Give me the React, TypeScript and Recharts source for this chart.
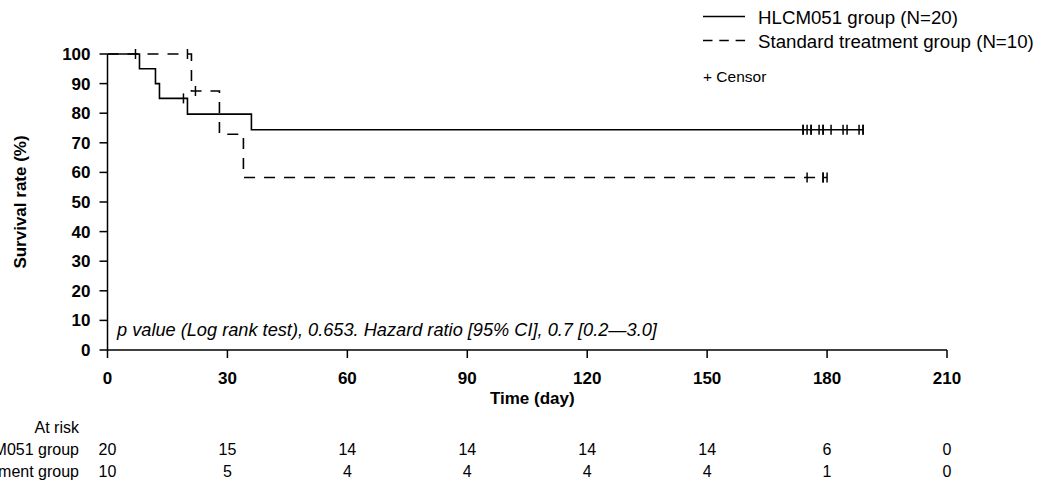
import { ComposedChart, Line, Scatter, XAxis, YAxis, Legend } from 'recharts'

// axis ticks
const xTicks = [0, 30, 60, 90, 120, 150, 180, 210]
const yTicks = [0, 10, 20, 30, 40, 50, 60, 70, 80, 90, 100]

// number at risk at each x tick
const riskHLCM = [20, 15, 14, 14, 14, 14, 6, 0]
const riskStandard = [10, 5, 4, 4, 4, 4, 1, 0]
const riskRowLabels = ['At risk', 'HLCM051 group', 'Standard treatment group']

// Kaplan-Meier steps (day, survival %)
const hlcmDays = [0, 8, 12, 13, 20, 36, 189]
const hlcmSurvival = [100, 95, 90, 85, 79.7, 74.4, 74.4]
const hlcmCensorDays = [19, 174, 174, 175, 176, 176, 178, 179, 179, 181, 184, 185, 188, 189, 189]

const stdDays = [0, 21, 28, 34, 180]
const stdSurvival = [100, 87.5, 72.9, 58.3, 58.3]
const stdCensorDays = [7, 20, 22, 175, 179, 179, 180]

const seriesNames = ['HLCM051 group (N=20)', 'Standard treatment group (N=10)']
const statsNote = 'p value (Log rank test), 0.653. Hazard ratio [95% CI], 0.7 [0.2\u20143.0]'

const FONT = '"Liberation Sans", Arial, Helvetica, sans-serif'
const DASH = '11 9'

// survival level of a step curve at day t
const levelAt = (days: number[], surv: number[], t: number) => {
  let v = surv[0]
  days.forEach((d, i) => {
    if (d <= t) v = surv[i]
  })
  return v
}

const hlcmData = hlcmDays.map((t, i) => ({ t, s: hlcmSurvival[i] }))
const stdData = stdDays.map((t, i) => ({ t, s: stdSurvival[i] }))
const hlcmCensor = hlcmCensorDays.map(t => ({ t, s: levelAt(hlcmDays, hlcmSurvival, t) }))
const stdCensor = stdCensorDays.map(t => ({ t, s: levelAt(stdDays, stdSurvival, t) }))

// vertical censor mark
const CensorMark = (props: any) => {
  const { cx, cy } = props
  if (cx == null || cy == null) return null
  return <line x1={cx} y1={cy - 5} x2={cx} y2={cy + 5} stroke="#000" strokeWidth={1.5} />
}

// x tick with the at-risk numbers underneath
const TimeTick = (props: any) => {
  const { x, y, payload } = props
  const i = xTicks.indexOf(payload.value)
  return (
    <g fontFamily={FONT} fill="#000">
      <text x={x} y={y + 24} textAnchor="middle" fontSize={17} fontWeight="bold">
        {payload.value}
      </text>
      <text x={x} y={y + 95} textAnchor="middle" fontSize={16}>{riskHLCM[i]}</text>
      <text x={x} y={y + 117} textAnchor="middle" fontSize={16}>{riskStandard[i]}</text>
      {i === 0 && (
        <g fontSize={16} textAnchor="end">
          <text x={79} y={y + 73}>{riskRowLabels[0]}</text>
          <text x={79} y={y + 95}>{riskRowLabels[1]}</text>
          <text x={79} y={y + 117}>{riskRowLabels[2]}</text>
        </g>
      )}
    </g>
  )
}

const XTitle = (props: any) => {
  const vb = props.viewBox || { x: 107.5, y: 350, width: 839.5 }
  return (
    <text x={vb.x + vb.width / 2 + 5} y={vb.y + 54} textAnchor="middle"
      fontFamily={FONT} fontSize={17} fontWeight="bold" fill="#000">
      Time (day)
    </text>
  )
}

const YTitle = (props: any) => {
  const vb = props.viewBox || { y: 54, height: 296 }
  const cy = vb.y + vb.height / 2
  return (
    <text x={26} y={cy} transform={`rotate(-90 26 ${cy})`} textAnchor="middle"
      fontFamily={FONT} fontSize={17} fontWeight="bold" fill="#000">
      Survival rate (%)
    </text>
  )
}

const KMLegend = () => (
  <svg width={352} height={90} style={{ display: 'block' }}>
    <g fontFamily={FONT} fill="#000">
      <line x1={13} y1={16.5} x2={55} y2={16.5} stroke="#000" strokeWidth={1.5} />
      <text x={68} y={24} fontSize={18.7}>{seriesNames[0]}</text>
      <line x1={13} y1={40.5} x2={56} y2={40.5} stroke="#000" strokeWidth={1.5} strokeDasharray="9.5 6.8" />
      <text x={68} y={48} fontSize={18.7}>{seriesNames[1]}</text>
      <text x={13} y={82} fontSize={15.5}>+ Censor</text>
    </g>
  </svg>
)

export default function App() {
  return (
    <div style={{ position: 'absolute', left: 0, top: 0, background: '#fff' }}>
      <ComposedChart width={1042} height={483} margin={{ top: 54, right: 95, bottom: 0, left: 0 }}>
        <XAxis
          type="number"
          dataKey="t"
          domain={[0, 210]}
          ticks={xTicks}
          interval={0}
          height={133}
          tickSize={8}
          tickMargin={2}
          stroke="#000"
          strokeWidth={1.5}
          tick={<TimeTick />}
          label={<XTitle />}
        />
        <YAxis
          type="number"
          dataKey="s"
          domain={[0, 100]}
          ticks={yTicks}
          interval={0}
          width={107.5}
          tickSize={8}
          tickMargin={9}
          stroke="#000"
          strokeWidth={1.5}
          tick={{ fill: '#000', fontSize: 17, fontWeight: 'bold', fontFamily: FONT }}
          label={<YTitle />}
        />
        <Legend
          content={<KMLegend />}
          layout="horizontal"
          verticalAlign="middle"
          wrapperStyle={{ top: 0, left: 690, width: 352, height: 90 }}
        />
        <Line
          data={hlcmData}
          dataKey="s"
          type="stepAfter"
          stroke="#000"
          strokeWidth={1.6}
          dot={false}
          activeDot={false}
          name={seriesNames[0]}
          isAnimationActive={false}
        />
        <Line
          data={stdData}
          dataKey="s"
          type="stepAfter"
          stroke="#000"
          strokeWidth={1.6}
          strokeDasharray={DASH}
          dot={false}
          activeDot={false}
          name={seriesNames[1]}
          isAnimationActive={false}
        />
        <Scatter data={hlcmCensor} dataKey="s" shape={<CensorMark />} legendType="none" isAnimationActive={false} />
        <Scatter data={stdCensor} dataKey="s" shape={<CensorMark />} legendType="none" isAnimationActive={false} />
        <text x={117} y={336} fontFamily={FONT} fontSize={18.2} fontStyle="italic" fill="#000">
          {statsNote}
        </text>
      </ComposedChart>
    </div>
  )
}
